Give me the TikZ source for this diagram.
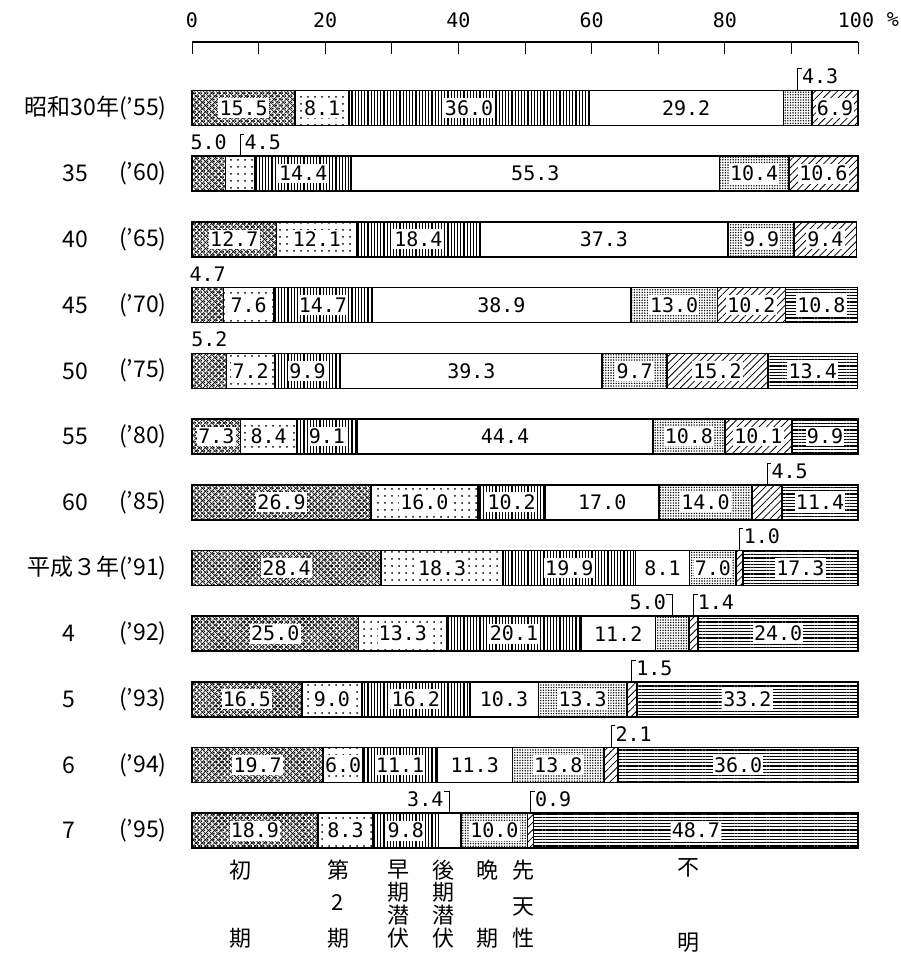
\documentclass[tikz,border=0pt]{standalone}
\usepackage{fontspec}
\usepackage{tikz}
\usetikzlibrary{patterns.meta, positioning}
\setmonofont{DejaVu Sans Mono}
\newfontfamily\jp{Noto Sans CJK JP}

\tikzset{
  seg1/.style={draw, line width=0.8pt,
    preaction={pattern={Hatch[angle=45,distance=2.2pt,line width=0.3pt]}},
    pattern={Dots[angle=45,distance=2.2pt,radius=0.55pt,xshift=1.1pt]}},
  seg2/.style={draw, line width=0.8pt, pattern={Dots[distance=3.5pt,radius=0.5pt]}},
  seg3/.style={draw, line width=0.8pt, pattern={Lines[angle=90,distance=1.6pt,line width=0.6pt]}},
  seg4/.style={draw, line width=0.8pt, fill=white},
  seg5/.style={draw, line width=0.8pt, pattern={Dots[distance=1.3pt,radius=0.38pt]}},
  seg6/.style={draw, line width=0.8pt, pattern={Lines[angle=45,distance=2.6pt,line width=0.4pt]}},
  seg7/.style={draw, line width=0.8pt, pattern={Lines[angle=0,distance=1.6pt,line width=0.6pt]}},
  val/.style={font=\fontsize{10}{12}\ttfamily, fill=white, inner xsep=0.6pt, inner ysep=1.2pt},
  smallval/.style={font=\fontsize{10}{12}\ttfamily, inner sep=0pt},
  tk/.style={font=\fontsize{10}{12}\ttfamily, inner sep=0pt},
  yr/.style={font=\fontsize{11.5}{12}\jp, inner sep=0pt},
  cat/.style={font=\fontsize{11}{12}\jp, inner sep=0pt},
}

% one stacked bar: #1 = row, #2 = value/shown-inside list
\newcommand{\ratebar}[2]{%
  \pgfmathsetmacro\yc{108+65.7*(#1-1)}
  \gdef\cum{0}
  \foreach \pv/\sh [count=\ci] in {#2}{
    \pgfmathsetmacro\xa{192+6.66*\cum}
    \pgfmathsetmacro\xb{min(858,192+6.66*(\cum+\pv))}
    \path[seg\ci] (\xa,\yc-17.5) rectangle (\xb,\yc+17.5);
    \coordinate (b#1-\ci) at ({(\xa+\xb)/2},\yc-17.5);
    \ifnum\sh=1 \node[val] (v#1-\ci) at ({(\xa+\xb)/2},\yc) {\pv};\fi
    \pgfmathsetmacro\nc{\cum+\pv}
    \xdef\cum{\nc}
  }}

\begin{document}
\begin{tikzpicture}[x=0.5pt, y=-0.5pt]
  \useasboundingbox (0,0) rectangle (900,958);

  % scale
  \coordinate (a0) at (192,42);
  \coordinate (a100) at (858,42);
  \draw[line width=1pt] (a0) -- (a100);
  \foreach \p in {0,10,...,100}
    \draw[line width=0.5pt] ({192+6.66*\p},42) -- ++(0,12);
  \foreach \p in {0,20,...,80}
    \node[tk] (t\p) at ({192+6.66*\p},20) {\p};
  \node[tk] (t100) at (856,20) {100};
  \node[tk, right=6pt of t100] (pct) {\%};

  % bars
  \ratebar{1}{15.5/1,8.1/1,36.0/1,29.2/1,4.3/0,6.9/1}
  \ratebar{2}{5.0/0,4.5/0,14.4/1,55.3/1,10.4/1,10.6/1}
  \ratebar{3}{12.7/1,12.1/1,18.4/1,37.3/1,9.9/1,9.4/1}
  \ratebar{4}{4.7/0,7.6/1,14.7/1,38.9/1,13.0/1,10.2/1,10.8/1}
  \ratebar{5}{5.2/0,7.2/1,9.9/1,39.3/1,9.7/1,15.2/1,13.4/1}
  \ratebar{6}{7.3/1,8.4/1,9.1/1,44.4/1,10.8/1,10.1/1,9.9/1}
  \ratebar{7}{26.9/1,16.0/1,10.2/1,17.0/1,14.0/1,4.5/0,11.4/1}
  \ratebar{8}{28.4/1,18.3/1,19.9/1,8.1/1,7.0/1,1.0/0,17.3/1}
  \ratebar{9}{25.0/1,13.3/1,20.1/1,11.2/1,5.0/0,1.4/0,24.0/1}
  \ratebar{10}{16.5/1,9.0/1,16.2/1,10.3/1,13.3/1,1.5/0,33.2/1}
  \ratebar{11}{19.7/1,6.0/1,11.1/1,11.3/1,13.8/1,2.1/0,36.0/1}
  \ratebar{12}{18.9/1,8.3/1,9.8/1,3.4/0,10.0/1,0.9/0,48.7/1}

  % small values above the bars
  \node[smallval, above=3pt of b2-1] (o2-1) {5.0};
  \node[smallval, above=3pt of b4-1] (o4-1) {4.7};
  \node[smallval, above=3pt of b5-1] (o5-1) {5.2};
  \node[smallval, above right=3pt and 2pt of b1-5] (o1-5) {4.3};
  \node[smallval, above right=3pt and 2pt of b2-2] (o2-2) {4.5};
  \node[smallval, above right=3pt and 2pt of b7-6] (o7-6) {4.5};
  \node[smallval, above right=3pt and 2pt of b8-6] (o8-6) {1.0};
  \node[smallval, above left=3pt and 3pt of b9-5] (o9-5) {5.0};
  \node[smallval, above right=3pt and 2pt of b9-6] (o9-6) {1.4};
  \node[smallval, above right=3pt and 2pt of b10-6] (o10-6) {1.5};
  \node[smallval, above right=3pt and 2pt of b11-6] (o11-6) {2.1};
  \node[smallval, above left=3pt and 3pt of b12-4] (o12-4) {3.4};
  \node[smallval, above right=3pt and 2pt of b12-6] (o12-6) {0.9};
  \begin{scope}[every path/.style={draw, line width=0.5pt}]
    \path (b1-5) |- (o1-5.north west);
    \path (b2-2) |- (o2-2.north west);
    \path (b7-6) |- (o7-6.north west);
    \path (b8-6) |- (o8-6.north west);
    \path (b9-5) |- (o9-5.north east);
    \path (b9-6) |- (o9-6.north west);
    \path (b10-6) |- (o10-6.north west);
    \path (b11-6) |- (o11-6.north west);
    \path (b12-4) |- (o12-4.north east);
    \path (b12-6) |- (o12-6.north west);
  \end{scope}

  % years
  \node[yr, anchor=east] (y1) at (167,108) {昭和30年(’55)};
  \node[yr, anchor=east] (y8) at (167,{108+65.7*7}) {平成３年(’91)};
  \foreach \r/\n/\y in {2/35/60,3/40/65,4/45/70,5/50/75,6/55/80,7/60/85,
                        9/4/92,10/5/93,11/6/94,12/7/95}{
    \node[yr, anchor=west] (n\r) at (62,{108+65.7*(\r-1)}) {\n};
    \node[yr, anchor=east] (y\r) at (167,{108+65.7*(\r-1)}) {(’\y)};
  }

  % categories
  \node[cat] (c1a) at (240,870) {初};
  \node[cat] (c1b) at (240,938) {期};
  \node[cat] (c2a) at (338,870) {第};
  \node[cat] (c2b) at (338,903) {2};
  \node[cat] (c2c) at (338,938) {期};
  \node[cat] (c3a) at (398,870) {早};
  \node[cat] (c3b) at (398,892) {期};
  \node[cat] (c3c) at (398,915) {潜};
  \node[cat] (c3d) at (398,938) {伏};
  \node[cat] (c4a) at (443,870) {後};
  \node[cat] (c4b) at (443,892) {期};
  \node[cat] (c4c) at (443,915) {潜};
  \node[cat] (c4d) at (443,938) {伏};
  \node[cat] (c5a) at (487,870) {晩};
  \node[cat] (c5b) at (487,938) {期};
  \node[cat] (c6a) at (523,870) {先};
  \node[cat] (c6b) at (523,907) {天};
  \node[cat] (c6c) at (523,938) {性};
  \node[cat] (c7a) at (688,868) {不};
  \node[cat] (c7b) at (688,943) {明};
\end{tikzpicture}
\end{document}
